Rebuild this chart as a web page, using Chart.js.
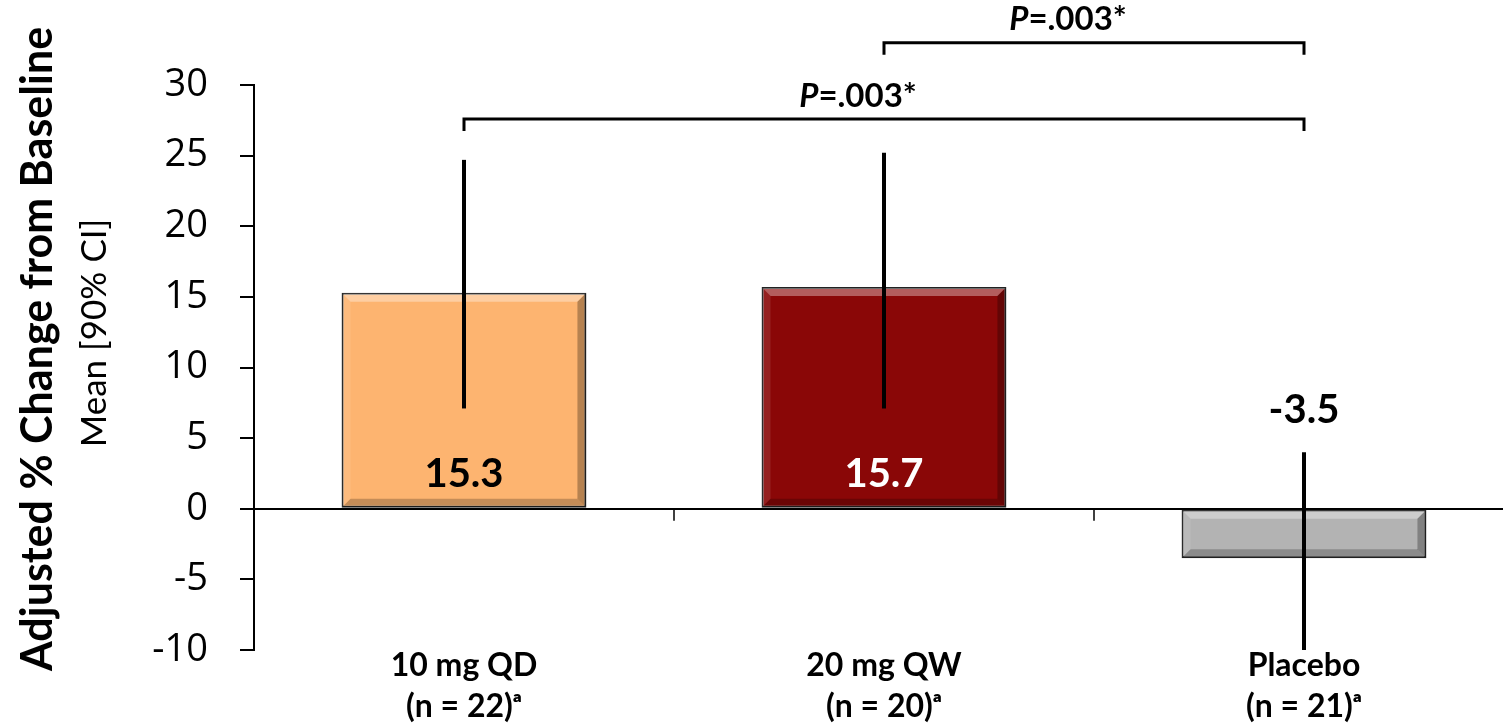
<!DOCTYPE html>
<html>
<head>
<meta charset="utf-8">
<script src="https://cdn.jsdelivr.net/npm/chart.js@4.4.1/dist/chart.umd.min.js"></script>
<style>
  html, body { margin: 0; padding: 0; background: #fff; overflow: hidden; }
  #wrap { width: 1514px; height: 728px; position: relative; }
</style>
</head>
<body>
<div id="wrap"><canvas id="chart"></canvas></div>
<script>
const categories = [['10 mg QD', '(n = 22)\u1d43'], ['20 mg QW', '(n = 20)\u1d43'], ['Placebo', '(n = 21)\u1d43']];
const means = [15.3, 15.7, -3.5];
const ciLow = [7.1, 7.1, -10];
const ciHigh = [24.7, 25.2, 4.0];
const barColors = ['#FDB470', '#8A0707', '#B3B3B3'];
const valueLabelColors = ['#000', '#fff', '#000'];
const yTicks = { min: -10, max: 30, step: 5 };
// significance brackets: [from category, to category, height, text]
const brackets = [
  { from: 0, to: 2, level: 27.6, text: '.003*' },
  { from: 1, to: 2, level: 33.0, text: '.003*' }
];

document.addEventListener("DOMContentLoaded", function() {
    const ctx = document.getElementById('chart');

    const overlay = {
        id: 'overlay',
        afterDatasetsDraw(chart) {
            const c = chart.ctx;
            const meta = chart.getDatasetMeta(0);
            const x = chart.scales.x, y = chart.scales.y;

            // bevel look on each bar
            meta.data.forEach(function(bar) {
                const p = bar.getProps(['x', 'y', 'base', 'width'], true);
                const l = p.x - p.width / 2 + 1, r = p.x + p.width / 2 - 1;
                const t = Math.min(p.y, p.base) + 1, b = Math.max(p.y, p.base) - 1;
                const s = 8;
                c.save();
                c.fillStyle = 'rgba(255,255,255,0.35)';
                c.beginPath(); c.moveTo(l, t); c.lineTo(r, t); c.lineTo(r - s, t + s); c.lineTo(l + s, t + s); c.closePath(); c.fill();
                c.fillStyle = 'rgba(255,255,255,0.1)';
                c.beginPath(); c.moveTo(l, t); c.lineTo(l + s, t + s); c.lineTo(l + s, b - s); c.lineTo(l, b); c.closePath(); c.fill();
                c.fillStyle = 'rgba(0,0,0,0.28)';
                c.beginPath(); c.moveTo(r, t); c.lineTo(r, b); c.lineTo(r - s, b - s); c.lineTo(r - s, t + s); c.closePath(); c.fill();
                c.fillStyle = 'rgba(0,0,0,0.22)';
                c.beginPath(); c.moveTo(l, b); c.lineTo(r, b); c.lineTo(r - s, b - s); c.lineTo(l + s, b - s); c.closePath(); c.fill();
                c.restore();
            });

            // error bars (no caps)
            c.save();
            c.strokeStyle = '#000';
            c.lineWidth = 4;
            means.forEach(function(m, i) {
                const px = x.getPixelForValue(i);
                c.beginPath();
                c.moveTo(px, y.getPixelForValue(ciHigh[i]));
                c.lineTo(px, y.getPixelForValue(ciLow[i]));
                c.stroke();
            });
            c.restore();

            // value labels
            c.save();
            c.font = 'bold 40px Lato';
            c.textAlign = 'center';
            c.textBaseline = 'middle';
            means.forEach(function(m, i) {
                const px = x.getPixelForValue(i);
                let py;
                if (m >= 0) py = y.getPixelForValue(0) - 35;
                else py = y.getPixelForValue(ciHigh[i]) - 42;
                c.fillStyle = valueLabelColors[i];
                c.fillText(m.toFixed(1), px, py);
            });
            c.restore();
        },
        afterDraw(chart) {
            const c = chart.ctx;
            const x = chart.scales.x, y = chart.scales.y;
            const y0 = y.getPixelForValue(0);

            // category tick marks on the zero line
            c.save();
            c.strokeStyle = '#000';
            c.lineWidth = 1.5;
            for (let i = 0; i < categories.length - 1; i++) {
                const bx = (x.getPixelForValue(i) + x.getPixelForValue(i + 1)) / 2;
                c.beginPath(); c.moveTo(bx, y0); c.lineTo(bx, y0 + 12); c.stroke();
            }
            c.restore();

            // brackets
            brackets.forEach(function(br) {
                const x1 = x.getPixelForValue(br.from), x2 = x.getPixelForValue(br.to);
                const py = y.getPixelForValue(br.level);
                c.save();
                c.strokeStyle = '#000';
                c.lineWidth = 3;
                c.beginPath();
                c.moveTo(x1, py + 12); c.lineTo(x1, py); c.lineTo(x2, py); c.lineTo(x2, py + 12);
                c.stroke();
                c.fillStyle = '#000';
                c.textBaseline = 'middle';
                c.font = 'italic bold 33px Lato';
                const w1 = c.measureText('P').width;
                c.font = 'bold 33px Lato';
                const w2 = c.measureText('=' + br.text).width;
                const cx = (x1 + x2) / 2 - 26;
                const sx = cx - (w1 + w2) / 2;
                const ty = py - 23;
                c.font = 'italic bold 33px Lato';
                c.textAlign = 'left';
                c.fillText('P', sx, ty);
                c.font = 'bold 33px Lato';
                c.fillText('=' + br.text, sx + w1, ty);
                c.restore();
            });

            // y axis titles
            c.save();
            c.fillStyle = '#000';
            c.textAlign = 'center';
            c.textBaseline = 'middle';
            c.translate(38, 349);
            c.rotate(-Math.PI / 2);
            c.font = 'bold 43px Lato';
            c.fillText('Adjusted % Change from Baseline', 0, 0);
            c.restore();
            c.save();
            c.fillStyle = '#000';
            c.textAlign = 'center';
            c.textBaseline = 'middle';
            c.translate(95, 333);
            c.rotate(-Math.PI / 2);
            c.font = '35px Lato';
            c.fillText('Mean [90% CI]', 0, 0);
            c.restore();
        }
    };

    new Chart(ctx, {
        type: 'bar',
        data: {
            labels: categories,
            datasets: [{
                data: means,
                backgroundColor: barColors,
                borderColor: '#222',
                borderWidth: 2,
                borderSkipped: false,
                barPercentage: 0.583,
                categoryPercentage: 1
            }]
        },
        options: {
            responsive: true,
            maintainAspectRatio: false,
            animation: false,
            layout: { padding: { top: 85, right: 0, left: 0, bottom: 0 } },
            plugins: {
                legend: { display: false },
                tooltip: { enabled: false }
            },
            scales: {
                x: {
                    grid: { display: false, drawTicks: false },
                    border: { display: false },
                    ticks: {
                        color: '#000',
                        font: { family: 'Lato', size: 32, weight: 'bold', lineHeight: 1.28 },
                        padding: -5,
                        maxRotation: 0
                    },
                    afterFit: function(scale) { scale.height = 78; }
                },
                y: {
                    min: yTicks.min,
                    max: yTicks.max,
                    ticks: {
                        stepSize: yTicks.step,
                        color: '#000',
                        font: { family: 'Open Sans', size: 38 },
                        padding: 32
                    },
                    grid: {
                        drawOnChartArea: true,
                        color: function(c) { return c.tick && c.tick.value === 0 ? '#000' : 'rgba(0,0,0,0)'; },
                        tickColor: '#000',
                        tickLength: 14,
                        lineWidth: 2
                    },
                    border: { display: true, color: '#000', width: 2 },
                    afterFit: function(scale) { scale.width = 254; }
                }
            }
        },
        plugins: [overlay]
    });
});
</script>
</body>
</html>
